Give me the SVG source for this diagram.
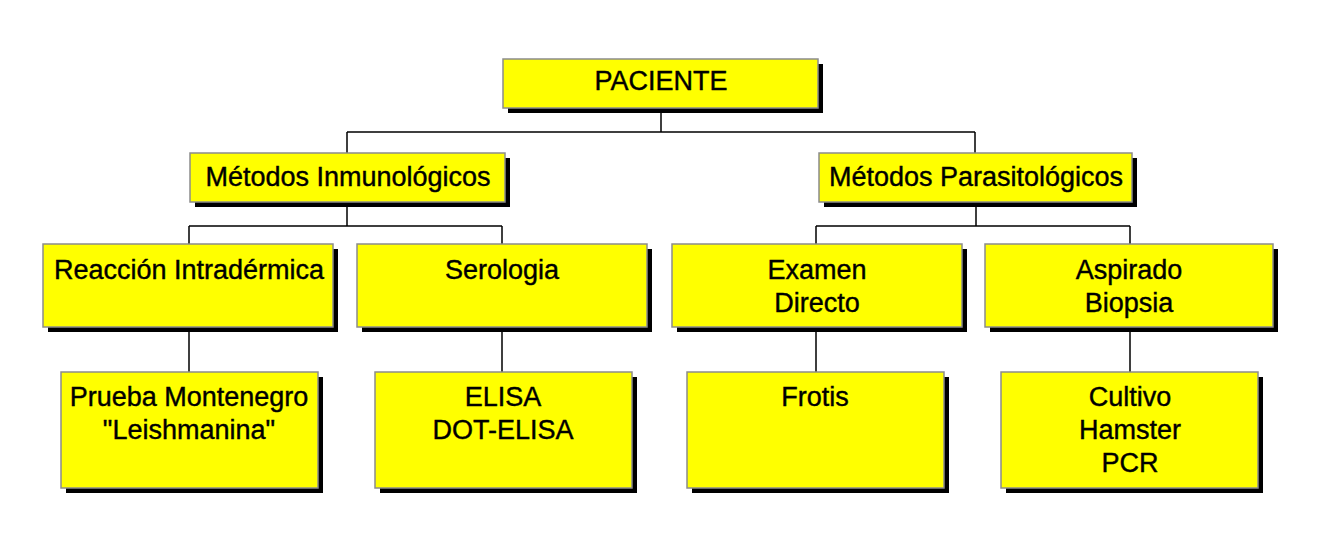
<svg xmlns="http://www.w3.org/2000/svg" width="1334" height="550" viewBox="0 0 1334 550">
<defs>
<style>
.box{fill:#ffff00;stroke:#8c8c8c;stroke-width:1.5}
.sh{fill:#000}
.t{font-family:"Liberation Sans",Arial,sans-serif;font-size:27px;fill:#000;stroke:#000;stroke-width:0.4;text-anchor:middle}
.c{stroke:#000;stroke-width:1.5;fill:none}
</style>
</defs>
<rect width="1334" height="550" fill="#fff"/>
<g id="connectors">
<path class="c" d="M661 108V132M347 132H975M347 132V153M975 132V153"/>
<path class="c" d="M347 202V226M189 226H502M189 226V244M502 226V244"/>
<path class="c" d="M976 202V226M816 226H1130M816 226V244M1130 226V244"/>
<path class="c" d="M189 327V372M502 327V372M816 327V372M1130 327V372"/>
</g>
<g id="paciente"><rect class="sh" x="508" y="64" width="315" height="49"/><rect class="box" x="503" y="59" width="315" height="49"/><text class="t" x="661" y="90">PACIENTE</text></g>
<g id="inmuno"><rect class="sh" x="195" y="158" width="315" height="49"/><rect class="box" x="190" y="153" width="315" height="49"/><text class="t" x="348" y="186">Métodos Inmunológicos</text></g>
<g id="parasito"><rect class="sh" x="824" y="158" width="313" height="49"/><rect class="box" x="819" y="153" width="313" height="49"/><text class="t" x="976" y="186">Métodos Parasitológicos</text></g>
<g id="reaccion"><rect class="sh" x="48" y="249" width="290" height="83"/><rect class="box" x="43" y="244" width="290" height="83"/><text class="t" x="189" y="279">Reacción Intradérmica</text></g>
<g id="serologia"><rect class="sh" x="362" y="249" width="290" height="83"/><rect class="box" x="357" y="244" width="290" height="83"/><text class="t" x="502" y="279">Serologia</text></g>
<g id="examen"><rect class="sh" x="677" y="249" width="290" height="83"/><rect class="box" x="672" y="244" width="290" height="83"/><text class="t" x="817" y="279">Examen</text><text class="t" x="817" y="312">Directo</text></g>
<g id="aspirado"><rect class="sh" x="990" y="249" width="288" height="83"/><rect class="box" x="985" y="244" width="288" height="83"/><text class="t" x="1129" y="279">Aspirado</text><text class="t" x="1129" y="312">Biopsia</text></g>
<g id="prueba"><rect class="sh" x="66" y="377" width="257" height="116"/><rect class="box" x="61" y="372" width="257" height="116"/><text class="t" x="189" y="406">Prueba Montenegro</text><text class="t" x="189" y="439">"Leishmanina"</text></g>
<g id="elisa"><rect class="sh" x="380" y="377" width="257" height="116"/><rect class="box" x="375" y="372" width="257" height="116"/><text class="t" x="503" y="406">ELISA</text><text class="t" x="503" y="439">DOT-ELISA</text></g>
<g id="frotis"><rect class="sh" x="692" y="377" width="257" height="116"/><rect class="box" x="687" y="372" width="257" height="116"/><text class="t" x="815" y="406">Frotis</text></g>
<g id="cultivo"><rect class="sh" x="1006" y="377" width="257" height="116"/><rect class="box" x="1001" y="372" width="257" height="116"/><text class="t" x="1130" y="406">Cultivo</text><text class="t" x="1130" y="439">Hamster</text><text class="t" x="1130" y="472">PCR</text></g>
</svg>
